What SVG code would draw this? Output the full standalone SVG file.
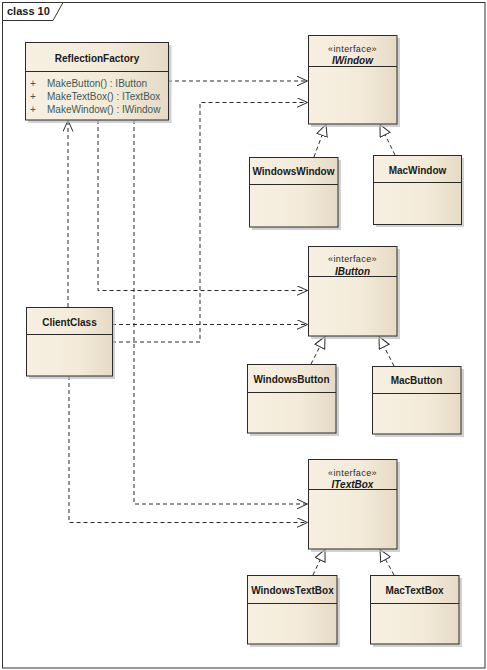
<svg xmlns="http://www.w3.org/2000/svg" width="487" height="670" viewBox="0 0 487 670">
<style>
.frame{fill:#fff;stroke:#333;stroke-width:1}
.box{fill:url(#g);stroke:#2a2a2a;stroke-width:1}
.sh{fill:#bdbdbd;opacity:0.7}
.div{stroke:#2a2a2a;stroke-width:1}
.t{font-family:"Liberation Sans",Arial,sans-serif;font-size:10px;font-weight:bold;fill:#1a1a1a;text-anchor:middle}
.ti{font-family:"Liberation Sans",Arial,sans-serif;font-size:10px;font-weight:bold;font-style:italic;fill:#1a1a1a;text-anchor:middle}
.st{font-family:"Liberation Sans",Arial,sans-serif;font-size:9px;letter-spacing:0.4px;fill:#2a2a2a;text-anchor:middle}
.a{font-family:"Liberation Sans",Arial,sans-serif;font-size:10px;fill:#3e5a58}
.dep{fill:none;stroke:#2a2a2a;stroke-width:1;stroke-dasharray:4,3;marker-end:url(#open)}
.real{fill:none;stroke:#2a2a2a;stroke-width:1;stroke-dasharray:4,3;marker-end:url(#tri)}
</style>
<defs>
<linearGradient id="g" x1="0" y1="0" x2="1" y2="0">
<stop offset="0" stop-color="#f7f0e2"/>
<stop offset="0.6" stop-color="#f3ead9"/>
<stop offset="1" stop-color="#e6dac6"/>
</linearGradient>
<marker id="open" markerUnits="userSpaceOnUse" markerWidth="14" markerHeight="12" refX="11" refY="5" orient="auto">
<path d="M0,0 L11,5 L0,10" fill="none" stroke="#2a2a2a" stroke-width="1"/>
</marker>
<marker id="tri" markerUnits="userSpaceOnUse" markerWidth="14" markerHeight="14" refX="12" refY="6" orient="auto">
<path d="M0.5,0.5 L12,6 L0.5,11.5 Z" fill="#fff" stroke="#2a2a2a" stroke-width="1"/>
</marker>
</defs>
<rect x="0" y="0" width="487" height="670" fill="#fff"/>
<rect class="frame" x="2.5" y="2.5" width="482.5" height="665.5"/>
<path d="M2.5,20.5 H53 L63,2.5" fill="none" stroke="#333" stroke-width="1"/>
<text x="7" y="15" style="font-family:'Liberation Sans',Arial,sans-serif;font-size:11px;font-weight:bold;fill:#1a1a1a">class 10</text>

<g id="connectors">
<path class="dep" d="M168,81 H307.5"/>
<path class="dep" d="M112,342 H200 V102.5 H307.5"/>
<path class="dep" d="M98,120 V290.5 H307.5"/>
<path class="dep" d="M112,324.5 H307.5"/>
<path class="dep" d="M134,120 V504 H307.5"/>
<path class="dep" d="M69,376 V522.5 H307.5"/>
<path class="dep" d="M68,307 V120.5"/>
<path class="real" d="M314,157 L326,124.5"/>
<path class="real" d="M395,155 L380,124.5"/>
<path class="real" d="M311,364 L325,336.5"/>
<path class="real" d="M394,366 L379,336.5"/>
<path class="real" d="M313,575 L325,549.5"/>
<path class="real" d="M394,575 L380,549.5"/>
</g>

<g id="ReflectionFactory">
<rect class="sh" x="28" y="45" width="143.5" height="78"/>
<rect class="box" x="25.5" y="42.5" width="143" height="77.5"/>
<line class="div" x1="25.5" y1="71.5" x2="168.5" y2="71.5"/>
<text class="t" x="97" y="62">ReflectionFactory</text>
<text class="a" x="30" y="87">+</text>
<text class="a" x="47" y="87">MakeButton() : IButton</text>
<text class="a" x="30" y="100">+</text>
<text class="a" x="47" y="100">MakeTextBox() : ITextBox</text>
<text class="a" x="30" y="113">+</text>
<text class="a" x="47" y="113">MakeWindow() : IWindow</text>
</g>

<g id="IWindow">
<rect class="sh" x="311" y="38" width="89" height="89"/>
<rect class="box" x="308.5" y="35.5" width="88.5" height="88.5"/>
<line class="div" x1="308.5" y1="66.5" x2="397" y2="66.5"/>
<text class="st" x="352.5" y="52">«interface»</text>
<text class="ti" x="352.5" y="63.5">IWindow</text>
</g>

<g id="WindowsWindow">
<rect class="sh" x="252" y="160" width="89" height="70"/>
<rect class="box" x="249.5" y="157.5" width="88.5" height="69.5"/>
<line class="div" x1="249.5" y1="184.5" x2="338" y2="184.5"/>
<text class="t" x="293.5" y="175">WindowsWindow</text>
</g>

<g id="MacWindow">
<rect class="sh" x="376" y="158" width="88" height="69"/>
<rect class="box" x="373.5" y="155.5" width="88" height="69"/>
<line class="div" x1="373.5" y1="182.5" x2="461.5" y2="182.5"/>
<text class="t" x="417.5" y="174">MacWindow</text>
</g>

<g id="ClientClass">
<rect class="sh" x="29" y="310" width="86" height="69"/>
<rect class="box" x="26.5" y="307.5" width="86" height="68.5"/>
<line class="div" x1="26.5" y1="334.5" x2="112.5" y2="334.5"/>
<text class="t" x="69.5" y="326">ClientClass</text>
</g>

<g id="IButton">
<rect class="sh" x="311" y="249" width="89" height="90"/>
<rect class="box" x="308.5" y="246.5" width="88.5" height="89.5"/>
<line class="div" x1="308.5" y1="276.5" x2="397" y2="276.5"/>
<text class="st" x="352.5" y="262">«interface»</text>
<text class="ti" x="352.5" y="275">IButton</text>
</g>

<g id="WindowsButton">
<rect class="sh" x="250" y="367" width="89" height="69"/>
<rect class="box" x="247.5" y="364.5" width="88.5" height="68.5"/>
<line class="div" x1="247.5" y1="392.5" x2="336" y2="392.5"/>
<text class="t" x="291.5" y="382.5">WindowsButton</text>
</g>

<g id="MacButton">
<rect class="sh" x="375" y="369" width="89" height="68"/>
<rect class="box" x="372.5" y="366.5" width="88.5" height="67.5"/>
<line class="div" x1="372.5" y1="393.5" x2="461" y2="393.5"/>
<text class="t" x="416.5" y="383.5">MacButton</text>
</g>

<g id="ITextBox">
<rect class="sh" x="311" y="462" width="89" height="90"/>
<rect class="box" x="308.5" y="459.5" width="88.5" height="89.5"/>
<line class="div" x1="308.5" y1="489.5" x2="397" y2="489.5"/>
<text class="st" x="352.5" y="476">«interface»</text>
<text class="ti" x="352.5" y="487.5">ITextBox</text>
</g>

<g id="WindowsTextBox">
<rect class="sh" x="250" y="578" width="90" height="69"/>
<rect class="box" x="247.5" y="575.5" width="89.5" height="68.5"/>
<line class="div" x1="247.5" y1="603.5" x2="337" y2="603.5"/>
<text class="t" x="292.5" y="593.5">WindowsTextBox</text>
</g>

<g id="MacTextBox">
<rect class="sh" x="373" y="578" width="89" height="69"/>
<rect class="box" x="370.5" y="575.5" width="88.5" height="68.5"/>
<line class="div" x1="370.5" y1="603.5" x2="459" y2="603.5"/>
<text class="t" x="414.5" y="593.5">MacTextBox</text>
</g>
</svg>
